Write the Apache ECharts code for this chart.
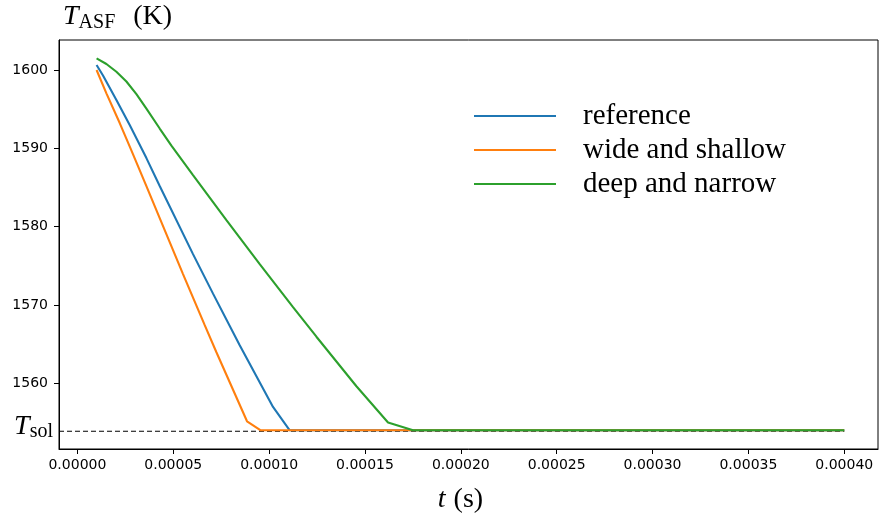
<!DOCTYPE html>
<html>
<head>
<meta charset="utf-8">
<script src="https://cdn.jsdelivr.net/npm/echarts@6/dist/echarts.min.js"></script>
<style>html,body{margin:0;padding:0;background:#fff}#c{width:880px;height:525px}</style>
</head>
<body>
<div id="c"></div>
<script>
// ---- data ----
const seriesNames = ['reference', 'wide and shallow', 'deep and narrow'];
const TSOL = 1553.9;

const tReference = [1.0e-5, 1.335e-5, 2.034e-5, 2.728e-5, 3.599e-5, 4.293e-5, 6.030e-5, 7.074e-5, 8.466e-5, 10.203e-5, 11.075e-5, 40.0e-5];
const TReference = [1600.64, 1599.30, 1596.17, 1592.98, 1588.76, 1585.19, 1576.50, 1571.46, 1564.88, 1557.00, 1554.02, 1554.02];

const tWide = [1.0e-5, 1.513e-5, 2.207e-5, 2.765e-5, 3.599e-5, 4.293e-5, 5.509e-5, 6.641e-5, 7.251e-5, 8.847e-5, 9.562e-5, 40.0e-5];
const TWide = [1600.00, 1597.02, 1593.23, 1590.04, 1585.19, 1581.10, 1573.95, 1567.43, 1563.98, 1555.17, 1554.02, 1554.02];

const tDeep = [1.0e-5, 1.513e-5, 2.034e-5, 2.556e-5, 3.078e-5, 3.599e-5, 4.293e-5, 4.903e-5, 6.030e-5, 7.773e-5, 9.510e-5, 11.247e-5, 12.467e-5, 14.554e-5, 16.203e-5, 17.507e-5, 40.0e-5];
const TDeep = [1601.49, 1600.77, 1599.78, 1598.53, 1596.93, 1595.08, 1592.53, 1590.36, 1586.59, 1580.84, 1575.22, 1569.73, 1565.96, 1559.64, 1555.01, 1554.02, 1554.02];

const tSolLine = [-0.96e-5, 40.0e-5];

const xTicks = [0, 0.00005, 0.00010, 0.00015, 0.00020, 0.00025, 0.00030, 0.00035, 0.00040];
const yTicks = [1560, 1570, 1580, 1590, 1600];

// ---- chart ----
const SERIF = "'Liberation Serif', 'DejaVu Serif', serif";
const SANS = "'DejaVu Sans', sans-serif";
const colors = ['#1f77b4', '#ff7f0e', '#2ca02c'];
const pairs = (xs, ys) => xs.map((x, i) => [x, ys[i]]);

const chart = echarts.init(document.getElementById('c'), null, {renderer: 'canvas'});
chart.setOption({
  animation: false,
  backgroundColor: '#fff',
  title: {
    text: '{i|T}{s|ASF}{r|(K)}',
    left: 63, top: 3, padding: 0,
    textStyle: {
      fontWeight: 'normal',
      rich: {
        i: {fontFamily: SERIF, fontStyle: 'italic', fontWeight: 'normal', fontSize: 28, lineHeight: 38, verticalAlign: 'top', color: '#000'},
        s: {fontFamily: SERIF, fontWeight: 'normal', fontSize: 20, lineHeight: 38, verticalAlign: 'top', padding: [10, 0, 0, 0], color: '#000'},
        r: {fontFamily: SERIF, fontWeight: 'normal', fontSize: 28, lineHeight: 38, verticalAlign: 'top', color: '#000', padding: [0, 0, 0, 18]}
      }
    }
  },
  legend: {
    data: seriesNames,
    orient: 'vertical',
    left: 474, top: 99,
    padding: 0,
    icon: 'rect',
    itemWidth: 82, itemHeight: 2.2, itemGap: 0,
    textStyle: {fontFamily: SERIF, fontSize: 29, color: '#000', lineHeight: 34, padding: [0, 0, 0, 22]}
  },
  grid: {left: 59, right: 2, top: 40, bottom: 76, show: true, borderColor: '#000', borderWidth: 1, outerBoundsMode: 'none'},
  xAxis: {
    type: 'value',
    min: -0.96e-5, max: 41.76e-5,
    name: '{i|t}{r|(s)}',
    nameLocation: 'middle', nameGap: 37,
    nameTextStyle: {
      padding: [0, 16, 0, 0],
      rich: {
        i: {fontFamily: SERIF, fontStyle: 'italic', fontSize: 28, color: '#000'},
        r: {fontFamily: SERIF, fontSize: 28, color: '#000', padding: [0, 0, 0, 8]}
      }
    },
    axisLine: {show: true, onZero: false, lineStyle: {color: '#000', width: 1}},
    axisTick: {show: true, length: 5, customValues: xTicks, lineStyle: {color: '#000', width: 1}},
    axisLabel: {customValues: xTicks, margin: 9, fontFamily: SANS, fontSize: 14, color: '#000',
      formatter: v => Number(v).toFixed(5)},
    splitLine: {show: false}
  },
  yAxis: {
    type: 'value',
    min: 1551.63, max: 1603.83,
    axisLine: {show: true, onZero: false, lineStyle: {color: '#000', width: 1}},
    axisTick: {show: true, length: 5, customValues: yTicks, lineStyle: {color: '#000', width: 1}},
    axisLabel: {
      customValues: [TSOL].concat(yTicks), margin: 6,
      formatter: v => (Math.abs(v - TSOL) < 0.01 ? '{T|T}{s|sol}' : '{n|' + v + '}'),
      rich: {
        n: {fontFamily: SANS, fontSize: 14, color: '#000', padding: [0, 5, 0, 0]},
        T: {fontFamily: SERIF, fontStyle: 'italic', fontSize: 28, lineHeight: 38, verticalAlign: 'top', color: '#000'},
        s: {fontFamily: SERIF, fontSize: 20, lineHeight: 38, verticalAlign: 'top', padding: [10, 0, 0, 0], color: '#000'}
      }
    },
    splitLine: {show: false}
  },
  series: [
    {
      name: 'Tsol', type: 'line', silent: true, symbol: 'none', z: 1,
      data: pairs(tSolLine, [TSOL, TSOL]),
      lineStyle: {color: '#000', width: 1.1, type: [5, 3]}
    },
    {name: seriesNames[0], type: 'line', symbol: 'none', z: 2, color: colors[0],
      data: pairs(tReference, TReference), lineStyle: {width: 2.1, color: colors[0]}},
    {name: seriesNames[1], type: 'line', symbol: 'none', z: 3, color: colors[1],
      data: pairs(tWide, TWide), lineStyle: {width: 2.1, color: colors[1]}},
    {name: seriesNames[2], type: 'line', symbol: 'none', z: 4, color: colors[2],
      data: pairs(tDeep, TDeep), lineStyle: {width: 2.1, color: colors[2]}}
  ]
});
</script>
</body>
</html>
